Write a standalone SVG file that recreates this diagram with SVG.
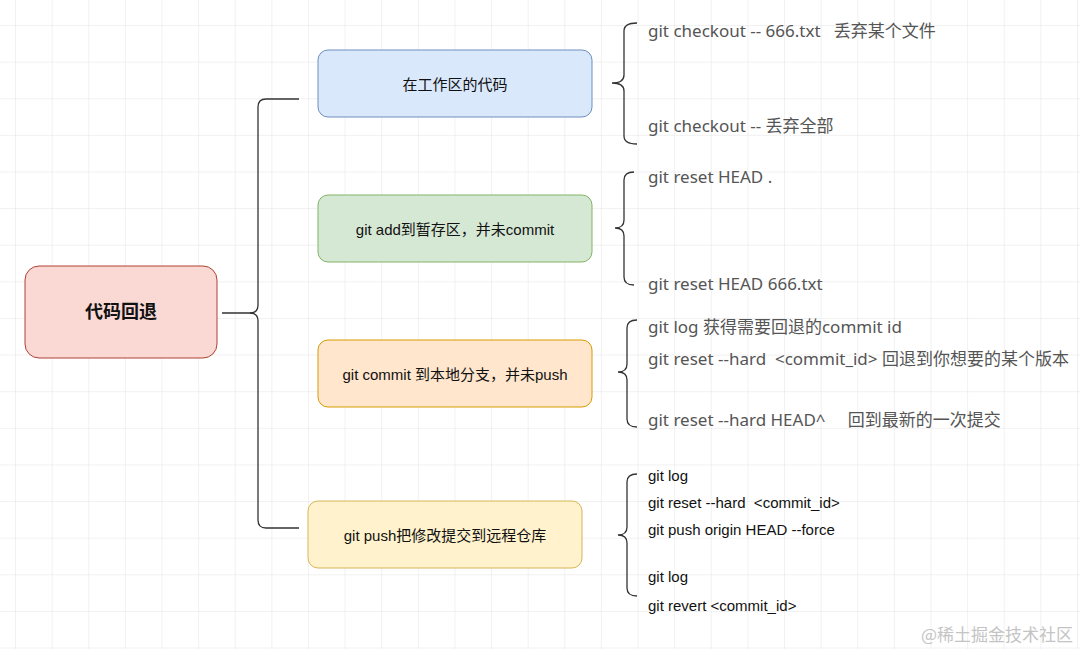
<svg xmlns="http://www.w3.org/2000/svg" width="1080" height="649" viewBox="0 0 1080 649">
<defs>
<pattern id="grid" x="15" y="25" width="36.62" height="36.62" patternUnits="userSpaceOnUse"><path d="M 36.62 0 L 0 0 0 36.62" fill="none" stroke="#e4e4e4" stroke-width="1"/></pattern>
<style>
.node text{font-family:"Liberation Sans","Noto Sans CJK SC",sans-serif;font-size:15px;fill:#111;text-anchor:middle;dominant-baseline:central}
.root text{font-size:18px;font-weight:bold}
.conn path{fill:none;stroke:#333;stroke-width:1.3}
.t1{font-family:"Noto Sans","Noto Sans CJK SC",sans-serif;font-size:17px;fill:#555;dominant-baseline:central}
.t2{font-family:"Liberation Sans","Noto Sans CJK SC",sans-serif;font-size:15px;fill:#111;dominant-baseline:central}
</style>
</defs>
<rect width="1080" height="649" fill="#fff"/>
<rect width="1080" height="649" fill="url(#grid)"/>

<g id="connectors" class="conn">
<path d="M222,313 H250 Q258,313 258,305 V107 Q258,99 266,99 H299"/>
<path d="M250,313 Q258,313 258,321 V520 Q258,528 266,528 H299"/>
<path d="M637,23 Q624,23 624,31 V75 Q624,83 612,83 Q624,83 624,91 V136 Q624,144 637,144"/>
<path d="M634,172 Q624,172 624,180 V220 Q624,228 615,228 Q624,228 624,236 V277 Q624,285 634,285"/>
<path d="M637,320 Q627,320 627,328 V364 Q627,372 618,372 Q627,372 627,380 V419 Q627,427 637,427"/>
<path d="M637,474 Q627,474 627,482 V527 Q627,535 618,535 Q627,535 627,543 V588 Q627,596 637,596"/>
</g>

<g id="root" class="node root">
<rect x="25" y="266" width="192" height="92" rx="14" fill="#fad9d5" stroke="#ae4132"/>
<text x="121" y="312">代码回退</text>
</g>
<g id="n1" class="node">
<rect x="318" y="50" width="274" height="67" rx="10" fill="#dae8fc" stroke="#6c8ebf"/>
<text x="455" y="84">在工作区的代码</text>
</g>
<g id="n2" class="node">
<rect x="318" y="195" width="274" height="67" rx="10" fill="#d5e8d4" stroke="#82b366"/>
<text x="455" y="229">git add到暂存区，并未commit</text>
</g>
<g id="n3" class="node">
<rect x="318" y="340" width="274" height="67" rx="10" fill="#ffe6cc" stroke="#d79b00"/>
<text x="455" y="374">git commit 到本地分支，并未push</text>
</g>
<g id="n4" class="node">
<rect x="308" y="501" width="274" height="67" rx="10" fill="#fff2cc" stroke="#d6b656"/>
<text x="445" y="535">git push把修改提交到远程仓库</text>
</g>

<g id="notes1">
<text class="t1" x="648" y="30" xml:space="preserve">git checkout -- 666.txt   丢弃某个文件</text>
<text class="t1" x="648" y="125">git checkout -- 丢弃全部</text>
</g>
<g id="notes2">
<text class="t1" x="648" y="176">git reset HEAD .</text>
<text class="t1" x="648" y="283">git reset HEAD 666.txt</text>
</g>
<g id="notes3">
<text class="t1" x="648" y="326">git log 获得需要回退的commit id</text>
<text class="t1" x="648" y="358" xml:space="preserve">git reset --hard  &lt;commit_id&gt; 回退到你想要的某个版本</text>
<text class="t1" x="648" y="419" xml:space="preserve">git reset --hard HEAD^     回到最新的一次提交</text>
</g>
<g id="notes4">
<text class="t2" x="648" y="475">git log</text>
<text class="t2" x="648" y="502" xml:space="preserve">git reset --hard  &lt;commit_id&gt;</text>
<text class="t2" x="648" y="529">git push origin HEAD --force</text>
<text class="t2" x="648" y="576">git log</text>
<text class="t2" x="648" y="605">git revert &lt;commit_id&gt;</text>
</g>
<text x="1073" y="633" font-family="Noto Sans CJK SC,sans-serif" font-size="17" fill="#c4c4c4" text-anchor="end" dominant-baseline="central">@稀土掘金技术社区</text>
</svg>
